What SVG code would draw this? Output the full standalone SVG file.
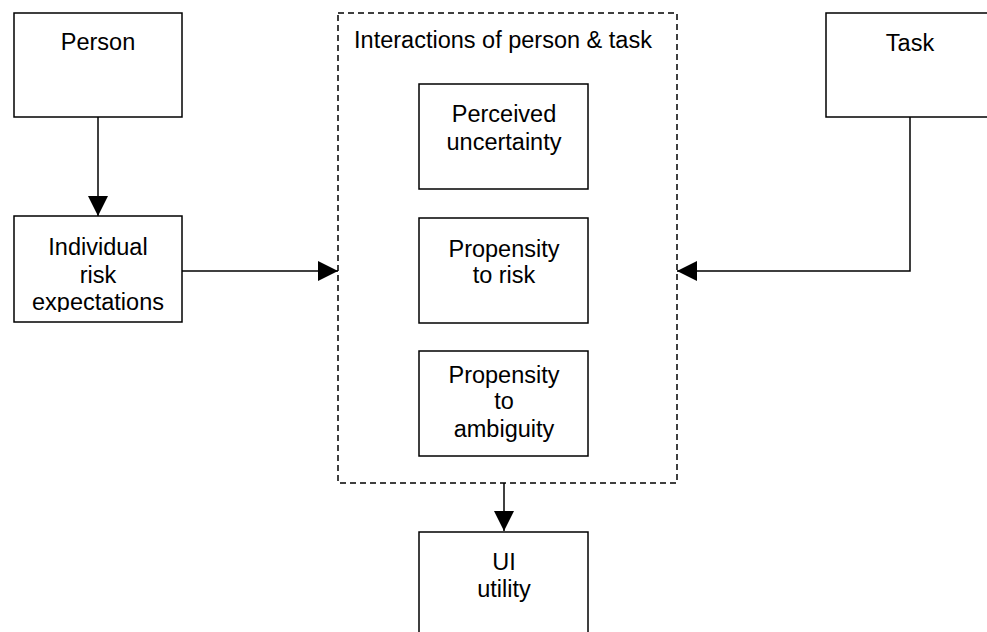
<svg xmlns="http://www.w3.org/2000/svg" width="987" height="632" viewBox="0 0 987 632">
  <style>
    .box { fill: #ffffff; stroke: #000000; stroke-width: 1.5; }
    .group { fill: none; stroke: #000000; stroke-width: 1.5; stroke-dasharray: 6 4; }
    .link { fill: none; stroke: #000000; stroke-width: 1.5; }
    text { font-family: "Liberation Sans", Arial, sans-serif; font-size: 23.5px; fill: #000000; text-anchor: middle; }
  </style>
  <defs>
    <marker id="arrow" markerWidth="20" markerHeight="20" refX="20" refY="10" orient="auto" markerUnits="userSpaceOnUse">
      <path d="M0,0 L20,10 L0,20 Z" fill="#000000"/>
    </marker>
    <clipPath id="clip-individual">
      <rect x="14" y="216" width="168" height="96"/>
    </clipPath>
  </defs>
  <rect width="987" height="632" fill="#ffffff"/>

  <g id="person">
    <rect class="box" x="14" y="13" width="168" height="104"/>
    <text x="98" y="50">Person</text>
  </g>

  <g id="individual-risk">
    <rect class="box" x="14" y="216" width="168" height="106"/>
    <g clip-path="url(#clip-individual)">
      <text x="98" y="255">Individual</text>
      <text x="98" y="283">risk</text>
      <text x="98" y="310">expectations</text>
    </g>
  </g>

  <g id="interactions">
    <rect class="group" x="338" y="13" width="339" height="470"/>
    <text x="503" y="48">Interactions of person &amp; task</text>
  </g>

  <g id="perceived-uncertainty">
    <rect class="box" x="419" y="84" width="169" height="105"/>
    <text x="504" y="122">Perceived</text>
    <text x="504" y="150">uncertainty</text>
  </g>

  <g id="propensity-risk">
    <rect class="box" x="419" y="218" width="169" height="105"/>
    <text x="504" y="257">Propensity</text>
    <text x="504" y="283">to risk</text>
  </g>

  <g id="propensity-ambiguity">
    <rect class="box" x="419" y="351" width="169" height="105"/>
    <text x="504" y="383">Propensity</text>
    <text x="504" y="409">to</text>
    <text x="504" y="437">ambiguity</text>
  </g>

  <g id="ui-utility">
    <rect class="box" x="419" y="532" width="169" height="110"/>
    <text x="504" y="570">UI</text>
    <text x="504" y="597">utility</text>
  </g>

  <g id="task">
    <rect class="box" x="826" y="13" width="170" height="104"/>
    <text x="910" y="51">Task</text>
  </g>

  <g id="connectors">
    <path class="link" d="M98,117 L98,216" marker-end="url(#arrow)"/>
    <path class="link" d="M182,271 L338,271" marker-end="url(#arrow)"/>
    <path class="link" d="M910,117 L910,271 L677,271" marker-end="url(#arrow)"/>
    <path class="link" d="M504,483 L504,531" marker-end="url(#arrow)"/>
  </g>
</svg>
